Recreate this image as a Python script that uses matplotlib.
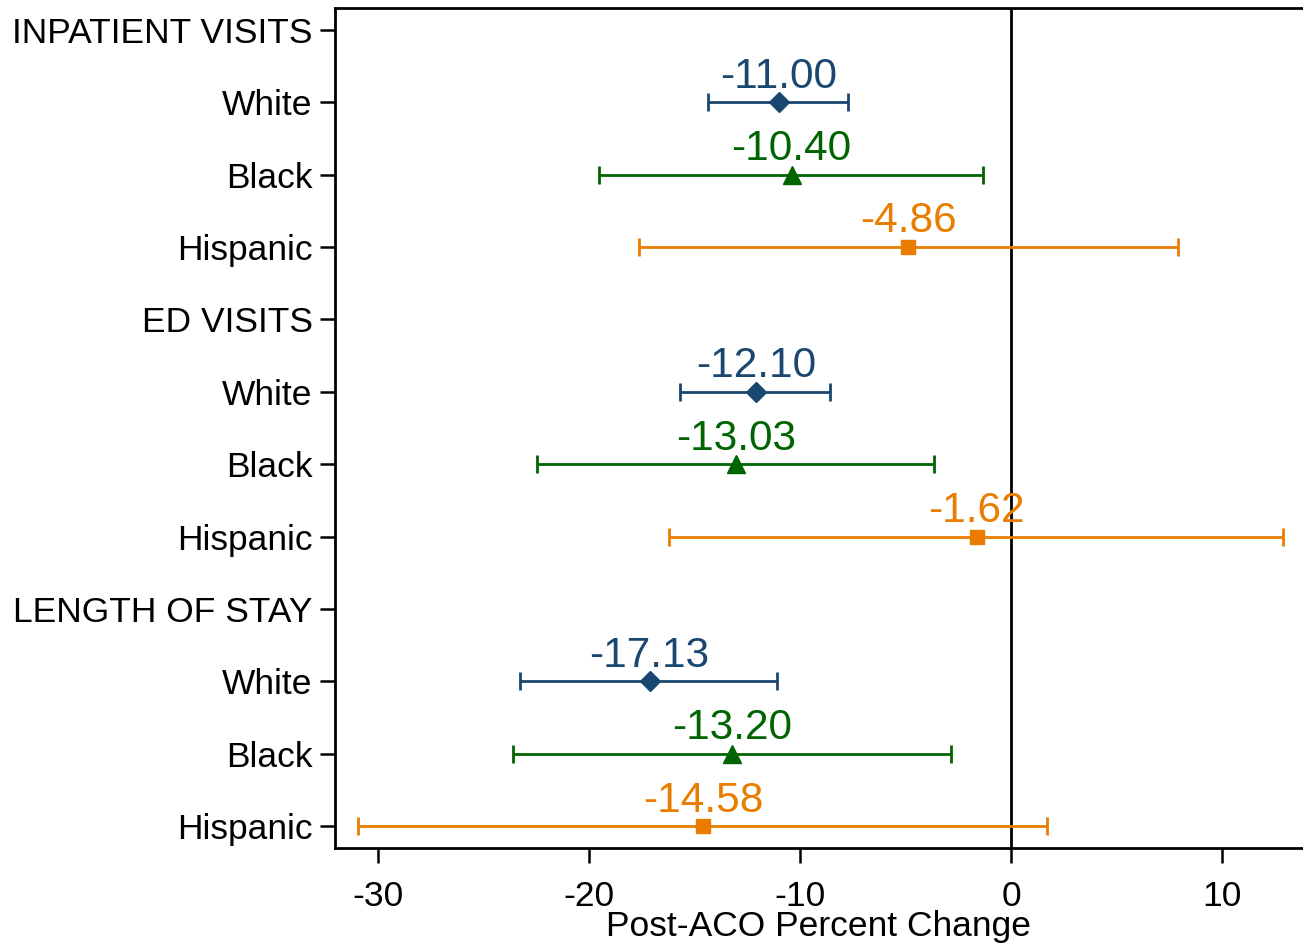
import numpy as np
import matplotlib
matplotlib.use("Agg")
import matplotlib.pyplot as plt

plt.rcParams["font.family"] = ["Liberation Sans", "DejaVu Sans"]
plt.rcParams["axes.unicode_minus"] = False

# rows top -> bottom
row_labels = ["INPATIENT VISITS", "White", "Black", "Hispanic",
              "ED VISITS", "White", "Black", "Hispanic",
              "LENGTH OF STAY", "White", "Black", "Hispanic"]

groups = ["White", "Black", "Hispanic"]
est_inpatient = [-11.00, -10.40, -4.86]
lo_inpatient = [-14.34, -19.53, -17.63]
hi_inpatient = [-7.71, -1.31, 7.91]

est_ed = [-12.10, -13.03, -1.62]
lo_ed = [-15.69, -22.46, -16.21]
hi_ed = [-8.58, -3.65, 12.91]

est_los = [-17.13, -13.20, -14.58]
lo_los = [-23.27, -23.60, -30.96]
hi_los = [-11.09, -2.84, 1.72]

colors = {"White": "#1a476f", "Black": "#006400", "Hispanic": "#e87d00"}
markers = {"White": ("D", 10.5), "Black": ("^", 12.5), "Hispanic": ("s", 10)}

fig = plt.figure(figsize=(13.03, 9.44), dpi=100)
ax = fig.add_axes([335 / 1303, 96 / 944, 1 - 335 / 1303, 840 / 944])

ypos = np.arange(1, len(row_labels) + 1)
sections = [(est_inpatient, lo_inpatient, hi_inpatient),
            (est_ed, lo_ed, hi_ed),
            (est_los, lo_los, hi_los)]

ax.axvline(0, color="black", lw=2, zorder=1)

for s, (est, lo, hi) in enumerate(sections):
    for g, name in enumerate(groups):
        y = ypos[s * 4 + 1 + g]
        e = est[g]
        c = colors[name]
        m, ms = markers[name]
        ax.errorbar([e], [y], xerr=[[e - lo[g]], [hi[g] - e]], fmt="none",
                    ecolor=c, elinewidth=2, capsize=6.5, capthick=2, zorder=2)
        ax.plot([e], [y], marker=m, ms=ms, color=c, ls="none", zorder=3)
        ax.annotate(f"{e:.2f}", (e, y), xytext=(0, 10.5), textcoords="offset points",
                    ha="center", va="baseline", fontsize=30.5, color=c)

ax.set_xlim(-32.04, 13.84)
ax.set_ylim(12.3, 0.7)
ax.set_yticks(ypos)
ax.set_yticklabels(row_labels)
ax.set_xticks([-30, -20, -10, 0, 10])
ax.tick_params(axis="both", labelsize=25.5, width=1.8, length=11, direction="out")
ax.tick_params(axis="y", pad=5)
ax.tick_params(axis="x", pad=12)
ax.set_xlabel("Post-ACO Percent Change", fontsize=25.5, labelpad=-2)

for side in ["left", "bottom", "top"]:
    ax.spines[side].set_linewidth(2)
ax.spines["right"].set_visible(False)

fig.savefig("out.png", dpi=100)
